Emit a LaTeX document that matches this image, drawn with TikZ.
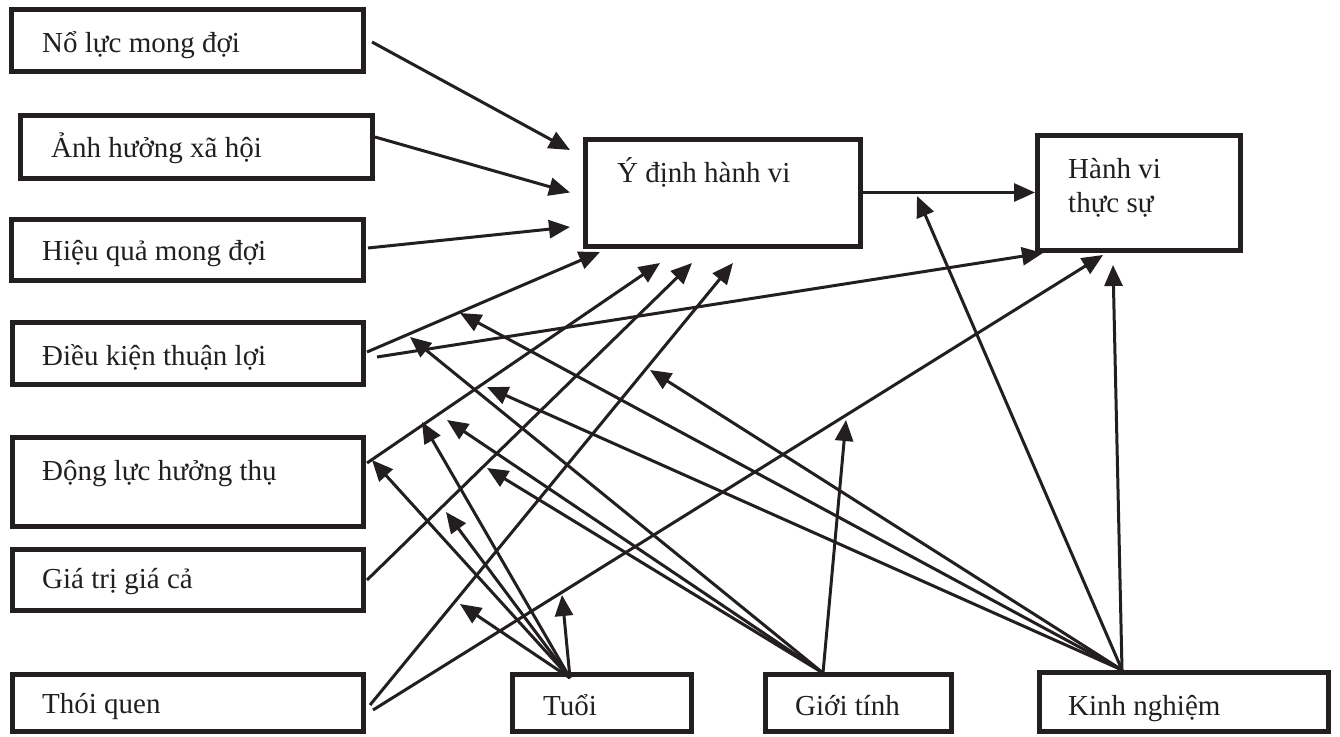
\documentclass[tikz,border=0pt]{standalone}
\usepackage{fontspec}
\setmainfont{Liberation Serif}
\usetikzlibrary{arrows.meta,calc,fit}
\definecolor{ink}{RGB}{35,31,32}
\begin{document}
\begin{tikzpicture}[x=1pt,y=-1pt,
  box/.style={draw=ink, line width=5pt, inner sep=0pt, outer sep=0pt, rectangle},
  lbl/.style={anchor=base west, inner sep=0pt, text=ink, font=\fontsize{29}{34}\selectfont},
  arr/.style={draw=ink, line width=3pt, -{Triangle[length=21pt,width=18pt]}},
]
\useasboundingbox[fill=white] (0,0) rectangle (1340,736);

% boxes
\node[box, fit={(11,9) (363,71)}] (nl) {};
\node[box, fit={(20,115) (372,178)}] (ah) {};
\node[box, fit={(11,219) (363,280)}] (hq) {};
\node[box, fit={(12,322) (363,384)}] (dk) {};
\node[box, fit={(12,437) (363,526)}] (dl) {};
\node[box, fit={(12,549) (363,610)}] (gt) {};
\node[box, fit={(12,674) (363,731)}] (tq) {};
\node[box, fit={(512,674) (691,731)}] (tuoi) {};
\node[box, fit={(765,674) (951,731)}] (gioi) {};
\node[box, fit={(1039,672) (1328,731)}] (kn) {};
\node[box, fit={(585,139) (860,246)}] (yd) {};
\node[box, fit={(1037,135) (1240,250)}] (hv) {};

% labels
\node[lbl] (lnl) at (42,52) {Nổ lực mong đợi};
\node[lbl] (lah) at (51,157) {Ảnh hưởng xã hội};
\node[lbl] (lhq) at (42,260) {Hiệu quả mong đợi};
\node[lbl] (ldk) at (42,365) {Điều kiện thuận lợi};
\node[lbl] (ldl) at (42,480) {Động lực hưởng thụ};
\node[lbl] (lgt) at (42,588) {Giá trị giá cả};
\node[lbl] (ltq) at (42,713) {Thói quen};
\node[lbl] (ltuoi) at (543,715) {Tuổi};
\node[lbl] (lgioi) at (795,715) {Giới tính};
\node[lbl] (lkn) at (1068,715) {Kinh nghiệm};
\node[lbl] (lyd) at (617,182) {Ý định hành vi};
\node[lbl] (lhv1) at (1068,178) {Hành vi};
\node[lbl] (lhv2) at (1068,212) {thực sự};

% main paths
\draw[arr] ($(nl.east)+(9,2)$) -- ($(yd.west)+(-15,-42.5)$);
\draw[arr] ($(ah.east)+(3,-9.5)$) -- ($(yd.west)+(-15,0)$);
\draw[arr] ($(hq.east)+(5,-1.5)$) -- ($(yd.west)+(-15,34.5)$);
\draw[arr] (yd.east) -- ($(hv.west)+(-2,0)$);
\draw[arr] ($(dk.east)+(4,-1)$) -- ($(yd.south west)+(15,6)$);
\draw[arr] ($(dk.east)+(14,4)$) -- ($(hv.south west)+(6,3)$);
\draw[arr] ($(dl.east)+(4,-18.5)$) -- ($(yd.south west)+(75,17)$);
\draw[arr] ($(gt.east)+(4,0.5)$) -- ($(yd.south west)+(107,17)$);
\draw[arr] ($(tq.east)+(7,2.5)$) -- ($(yd.south west)+(148,17)$);
\draw[arr] ($(tq.east)+(10,7.5)$) -- ($(hv.south west)+(66,5)$);

% moderator targets
\coordinate (t1) at (372,460);
\coordinate (t2) at (422,422);
\coordinate (t3) at (446,512);
\coordinate (t4) at (460,604);
\coordinate (t5) at (562,595);
\coordinate (g1) at (410,337);
\coordinate (g2) at (447,420);
\coordinate (g3) at (487,468);
\coordinate (g4) at (846,420);
\coordinate (k1) at (460,313);
\coordinate (k2) at (487,387);
\coordinate (k3) at (650,370);
\coordinate (k4) at (917,196);
\coordinate (k5) at (1113,265);

% moderators
\foreach \c in {t1,t2,t3,t4,t5}
  \draw[arr] ($(tuoi.north west)+(58,4)$) -- (\c);
\foreach \c in {g1,g2,g3,g4}
  \draw[arr] ($(gioi.north west)+(58,-1)$) -- (\c);
\foreach \c in {k1,k2,k3,k4,k5}
  \draw[arr] ($(kn.north west)+(83,-2)$) -- (\c);
\end{tikzpicture}
\end{document}
